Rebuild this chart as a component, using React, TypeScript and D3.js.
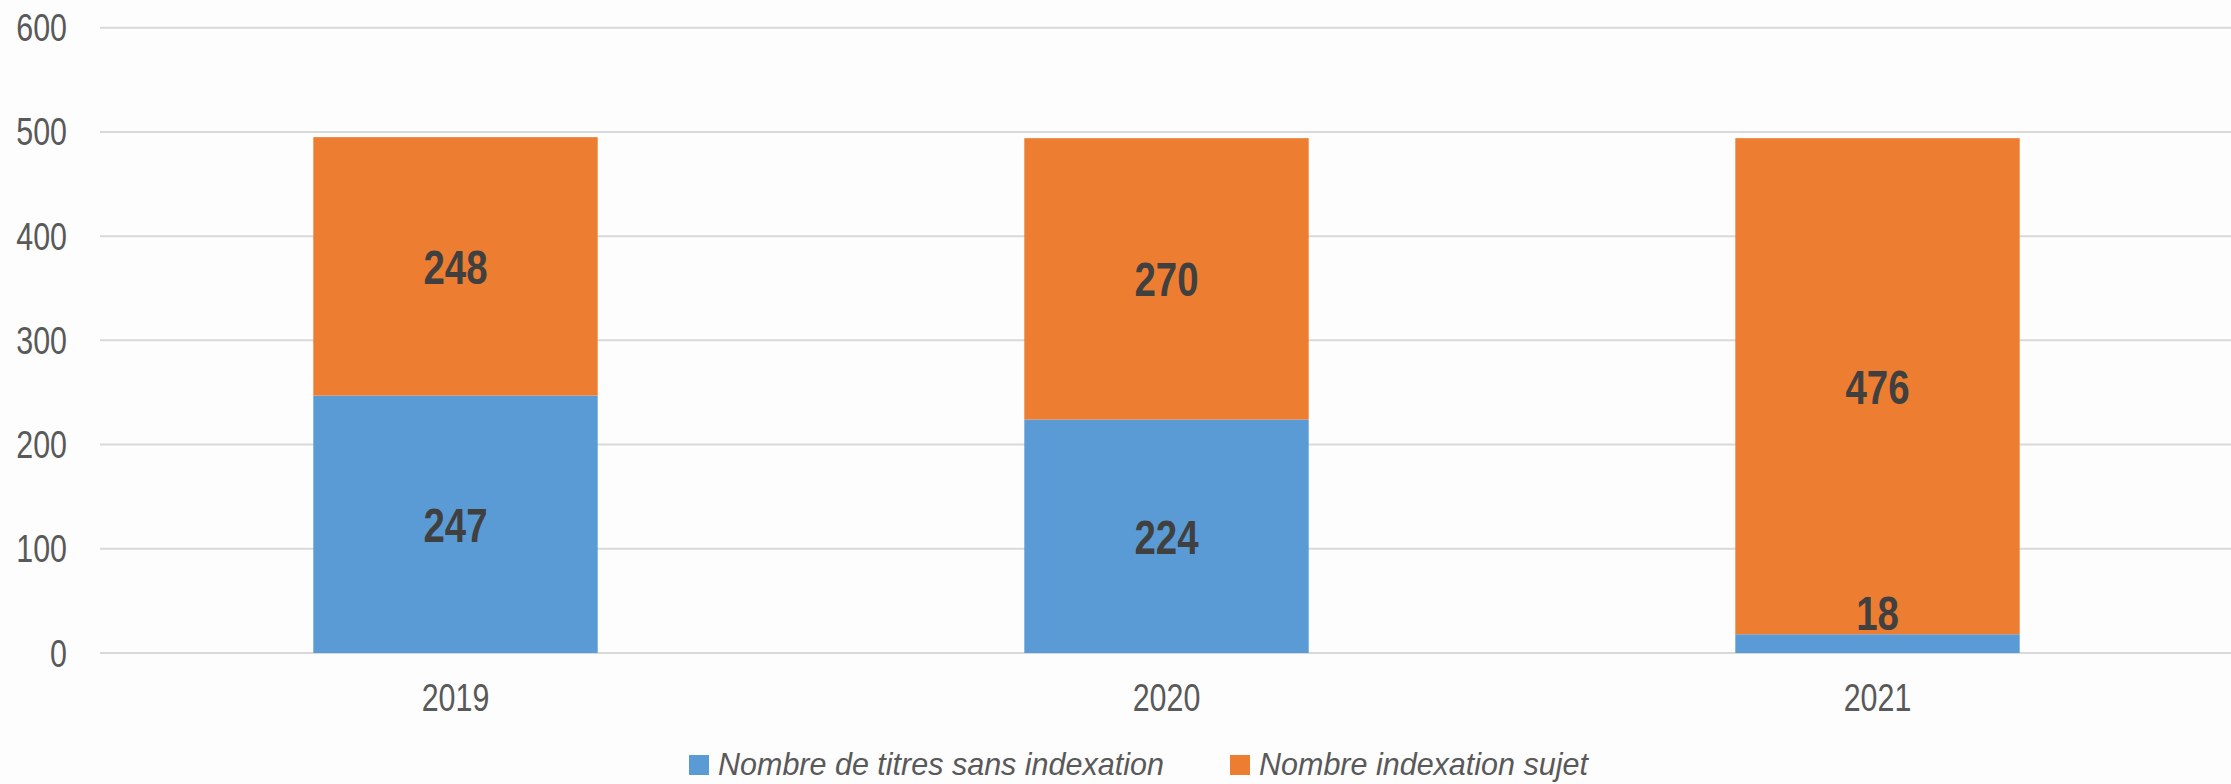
import React from "react";
import * as d3 from "d3";

const categories = ["2019", "2020", "2021"];
const sansIndexation = [247, 224, 18];
const indexationSujet = [248, 270, 476];
const seriesNames = ["Nombre de titres sans indexation", "Nombre indexation sujet"];
const seriesColors = ["#5B9BD5", "#ED7D31"];
const yTicks = [0, 100, 200, 300, 400, 500, 600];

const W = 2231;
const H = 784;
const FONT = "'Liberation Sans', Arial, sans-serif";
const NARROW = 0.8;

function NText(props: { x: number; y: number; anchor: string; size: number; bold?: boolean; fill: string; children: any }) {
  return (
    <text
      transform={`translate(${props.x},${props.y}) scale(${NARROW},1)`}
      textAnchor={props.anchor}
      fontFamily={FONT}
      fontWeight={props.bold ? "bold" : "normal"}
      fontSize={props.size}
      fill={props.fill}
    >
      {props.children}
    </text>
  );
}

export default function App() {
  const x = d3.scaleBand<string>().domain(categories).range([100, 2233]).paddingInner(0.6).paddingOuter(0.3);
  const y = d3.scaleLinear().domain([0, 600]).range([653, 27.7]);

  const rows = categories.map((c, i) => ({ cat: c, s0: sansIndexation[i], s1: indexationSujet[i] }));
  const stack = d3.stack<any>().keys(["s0", "s1"])(rows);

  return (
    <svg width={W} height={H} style={{ position: "absolute", left: 0, top: 0, background: "#fdfdfd" }}>
      <rect x={0} y={0} width={W} height={H} fill="#fdfdfd" />
      {yTicks.map((t) => (
        <g key={t}>
          <line x1={100} x2={W} y1={y(t)} y2={y(t)} stroke="#d9d9d9" strokeWidth={2} />
          <NText x={67} y={y(t) + 13.5} anchor="end" size={38} fill="#595959">
            {t}
          </NText>
        </g>
      ))}
      {stack.map((layer, li) => (
        <g key={li}>
          {layer.map((d, i) => (
            <rect
              key={i}
              x={x(categories[i])}
              width={x.bandwidth()}
              y={y(d[1])}
              height={y(d[0]) - y(d[1])}
              fill={seriesColors[li]}
            />
          ))}
        </g>
      ))}
      {stack.map((layer, li) => (
        <g key={"l" + li}>
          {layer.map((d, i) => {
            const h = y(d[0]) - y(d[1]);
            const cy = h < 40 ? y(d[1]) - 22 : (y(d[0]) + y(d[1])) / 2;
            return (
              <NText
                key={i}
                x={(x(categories[i]) as number) + x.bandwidth() / 2}
                y={cy + 17.5}
                anchor="middle"
                size={48}
                bold
                fill="#404040"
              >
                {d[1] - d[0]}
              </NText>
            );
          })}
        </g>
      ))}
      {categories.map((c) => (
        <NText key={c} x={(x(c) as number) + x.bandwidth() / 2} y={711} anchor="middle" size={38} fill="#595959">
          {c}
        </NText>
      ))}
      {seriesNames.map((n, i) => {
        const lx = [689, 1230][i];
        return (
          <g key={n}>
            <rect x={lx} y={755} width={20} height={20} fill={seriesColors[i]} />
            <text x={lx + 29} y={775} fontFamily={FONT} fontStyle="italic" fontSize={30.5} fill="#595959">
              {n}
            </text>
          </g>
        );
      })}
    </svg>
  );
}
